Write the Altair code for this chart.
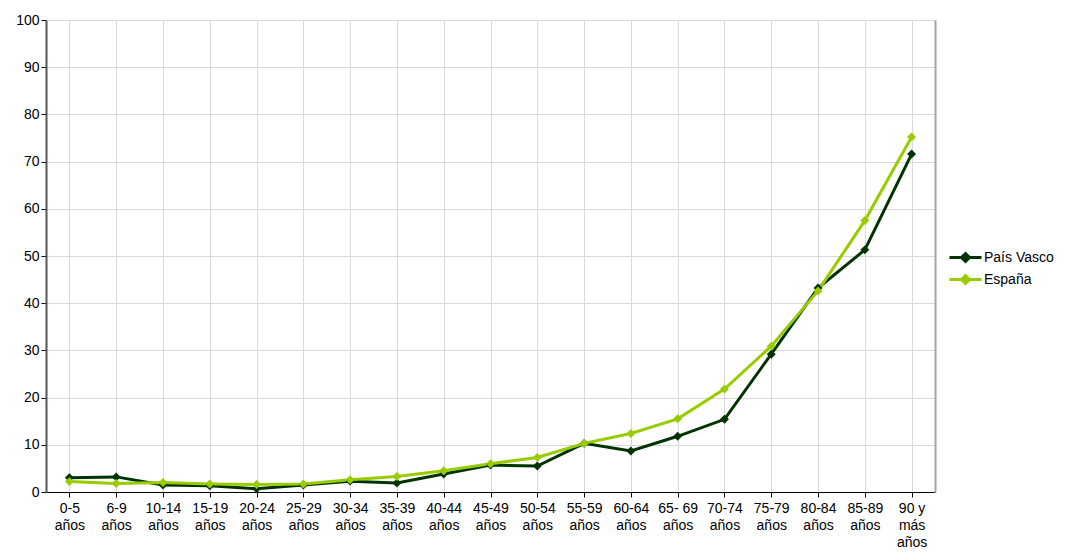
import altair as alt
import pandas as pd

categories = ["0-5\naños", "6-9\naños", "10-14\naños", "15-19\naños", "20-24\naños",
              "25-29\naños", "30-34\naños", "35-39\naños", "40-44\naños", "45-49\naños",
              "50-54\naños", "55-59\naños", "60-64\naños", "65- 69\naños", "70-74\naños",
              "75-79\naños", "80-84\naños", "85-89\naños", "90 y\nmás\naños"]
pais_vasco = [3.0, 3.2, 1.5, 1.3, 0.7, 1.5, 2.3, 1.9, 3.8, 5.7, 5.5, 10.3, 8.7, 11.8,
              15.4, 29.2, 43.2, 51.3, 71.6]
espana = [2.2, 1.8, 2.0, 1.7, 1.6, 1.7, 2.6, 3.3, 4.5, 6.0, 7.3, 10.3, 12.4, 15.5,
          21.8, 30.9, 42.6, 57.5, 75.2]
series = ["País Vasco", "España"]
colors = ["#003300", "#99CC00"]

rows = []
for i, c in enumerate(categories):
    rows.append({"edad": c, "serie": series[0], "valor": pais_vasco[i], "orden": 0})
    rows.append({"edad": c, "serie": series[1], "valor": espana[i], "orden": 1})
df = pd.DataFrame(rows)

FONT = "Liberation Sans"
W, H = 889, 472

x_axis = alt.Axis(labelAngle=0, labelExpr="split(datum.label, '\\n')",
                  labelFont=FONT, labelFontSize=14, labelColor="#000",
                  labelLineHeight=17, labelPadding=4, labelBaseline="top",
                  bandPosition=0, grid=True, gridColor="#d9d9d9",
                  tickColor="#000", tickSize=5, domainColor="#000")
x_enc = alt.X("edad:N", sort=categories, title=None,
              scale=alt.Scale(paddingInner=0, paddingOuter=0), axis=x_axis)
y_scale = alt.Scale(domain=[0, 100], nice=False)

color = alt.Color("serie:N", sort=series,
                  scale=alt.Scale(domain=series, range=colors),
                  legend=alt.Legend(title=None, orient="none", legendX=908, legendY=226,
                                    padding=0,
                                    labelFont=FONT, labelFontSize=14, labelColor="#000",
                                    symbolType="M-1.6,0H1.6M0,-0.4L0.4,0L0,0.4L-0.4,0Z",
                                    symbolSize=400, symbolStrokeWidth=3,
                                    rowPadding=0, labelOffset=7))

lines = alt.Chart(df).mark_line(strokeWidth=3, point=alt.OverlayMarkDef(shape="diamond", size=80, filled=True, opacity=1)).encode(
    x=x_enc,
    y=alt.Y("valor:Q", scale=y_scale, title=None,
            axis=alt.Axis(values=list(range(0, 101, 10)), labelFont=FONT, labelFontSize=14,
                          labelColor="#000", grid=True, gridColor="#d9d9d9",
                          domainColor="#555", domainWidth=2, tickColor="#000", tickSize=5)),
    color=color,
    order=alt.Order("orden:Q"),
)

right = alt.Chart(df).mark_line(opacity=0).encode(
    x=x_enc,
    y=alt.Y("valor:Q", scale=y_scale,
            axis=alt.Axis(orient="right", labels=False, ticks=False, grid=False,
                          domainColor="#a6a6a6", domainWidth=2, title=None)),
)

chart = alt.layer(lines, right).resolve_axis(y="independent").properties(
    width=W, height=H,
    autosize=alt.AutoSizeParams(type="none"),
    padding={"left": 38, "top": 12, "right": 125, "bottom": 65},
).configure_view(stroke=None)

chart.save("out.html", embed_options={"renderer": "svg", "actions": False})
